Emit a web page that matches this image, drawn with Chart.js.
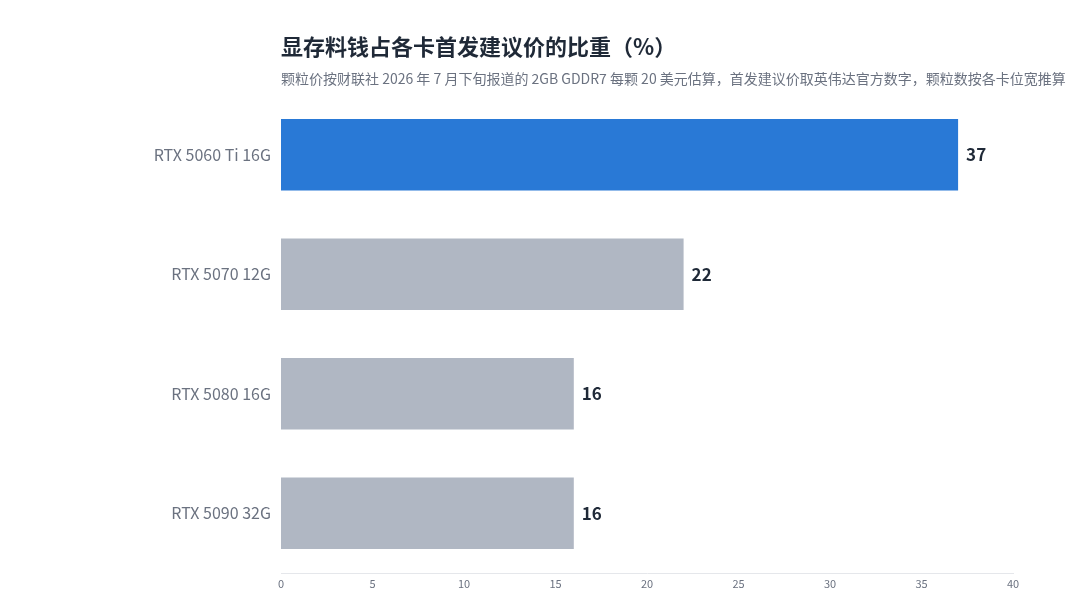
<!DOCTYPE html>
<html>
<head>
<meta charset="utf-8">
<script src="https://cdn.jsdelivr.net/npm/chart.js@4"></script>
<style>
  html, body { margin: 0; padding: 0; background: #fff; }
  #wrap { width: 1080px; height: 608px; }
</style>
</head>
<body>
<div id="wrap"><canvas id="grafico"></canvas></div>
<script>
const categories = ['RTX 5060 Ti 16G', 'RTX 5070 12G', 'RTX 5080 16G', 'RTX 5090 32G'];
const shareValues = [37, 22, 16, 16];
const barColors = ['#2979d6', '#b0b7c3', '#b0b7c3', '#b0b7c3'];
const titleText = '显存料钱占各卡首发建议价的比重（%）';
const subtitleText = '颗粒价按财联社 2026 年 7 月下旬报道的 2GB GDDR7 每颗 20 美元估算，首发建议价取英伟达官方数字，颗粒数按各卡位宽推算';

const fontFamily = '"Noto Sans CJK SC", "Noto Sans", sans-serif';

// Title and subtitle aligned with the plot's left edge
const headerPlugin = {
  id: 'header',
  afterDraw(chart) {
    const ctx = chart.ctx;
    const left = chart.chartArea.left;
    ctx.save();
    ctx.textAlign = 'left';
    ctx.textBaseline = 'middle';
    ctx.fillStyle = '#1f2937';
    ctx.font = 'bold 22px ' + fontFamily;
    ctx.fillText(titleText, left, 47);
    ctx.fillStyle = '#6b7280';
    ctx.font = '14px ' + fontFamily;
    ctx.fillText(subtitleText, left, 79);
    ctx.restore();
  }
};

// Value labels at the end of each bar
const valueLabels = {
  id: 'valueLabels',
  afterDatasetsDraw(chart) {
    const ctx = chart.ctx;
    const meta = chart.getDatasetMeta(0);
    ctx.save();
    ctx.fillStyle = '#1f2937';
    ctx.font = 'bold 17px ' + fontFamily;
    ctx.textAlign = 'left';
    ctx.textBaseline = 'middle';
    meta.data.forEach((bar, i) => {
      ctx.fillText(String(shareValues[i]), bar.x + 8, bar.y);
    });
    ctx.restore();
  }
};

const ctx = document.getElementById('grafico').getContext('2d');
new Chart(ctx, {
  type: 'bar',
  data: {
    labels: categories,
    datasets: [{
      data: shareValues,
      backgroundColor: barColors,
      borderWidth: 0,
      categoryPercentage: 0.6,
      barPercentage: 1.0
    }]
  },
  options: {
    indexAxis: 'y',
    responsive: true,
    maintainAspectRatio: false,
    animation: false,
    layout: { padding: { top: 95, right: 67, left: 0, bottom: 0 } },
    plugins: {
      legend: { display: false },
      title: { display: false },
      tooltip: { enabled: false }
    },
    scales: {
      x: {
        min: 0,
        max: 40,
        ticks: { stepSize: 5, color: '#6b7280', font: { size: 11, family: fontFamily }, padding: 4 },
        grid: { display: false, drawTicks: false },
        border: { display: true, color: '#e5e7eb' },
        afterFit(scale) { scale.height = 35; }
      },
      y: {
        ticks: { color: '#6b7280', font: { size: 16, family: fontFamily }, padding: 10 },
        grid: { display: false, drawTicks: false },
        border: { display: false },
        afterFit(scale) { scale.width = 281; }
      }
    }
  },
  plugins: [headerPlugin, valueLabels]
});
</script>
</body>
</html>
